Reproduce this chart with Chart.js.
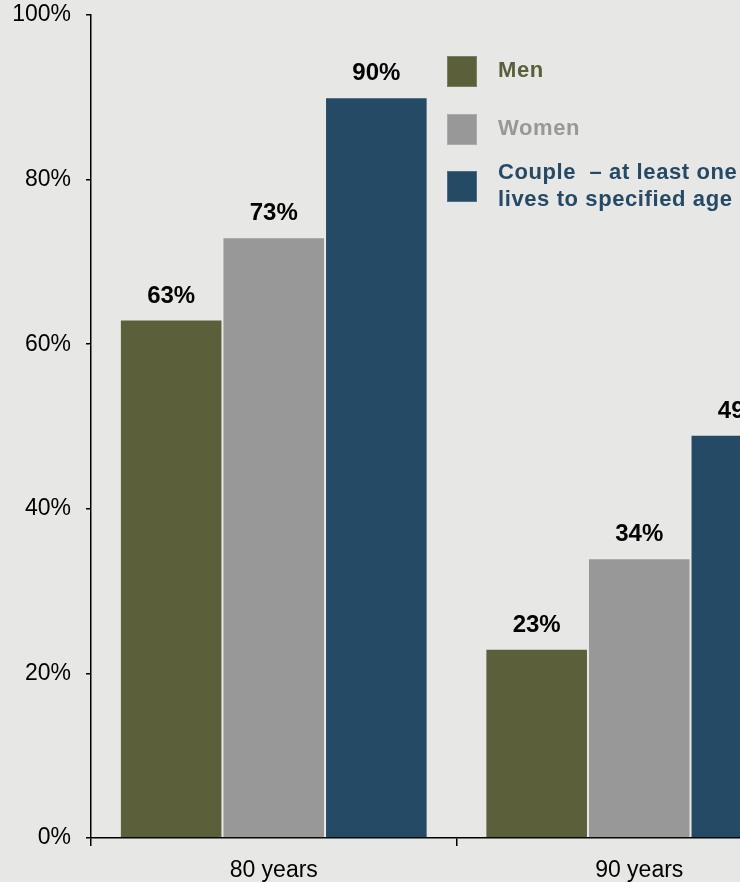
<!DOCTYPE html>
<html>
<head>
<meta charset="utf-8">
<script src="https://cdn.jsdelivr.net/npm/chart.js@4/dist/chart.umd.min.js"></script>
<style>
  html, body { margin: 0; padding: 0; background: #e7e7e6; overflow: hidden; }
  #wrap { width: 840px; height: 882px; }
</style>
</head>
<body>
<div id="wrap"><canvas id="c" width="840" height="882" style="width:840px;height:882px"></canvas></div>
<script>
// ---- data ----
const cats = ['80 years', '90 years'];
const men = [63, 23];
const women = [73, 34];
const couple = [90, 49];
const seriesNames = ['Men', 'Women', 'Couple'];
const legendLines = [['Men'], ['Women'], ['Couple  – at least one', 'lives to specified age']];
const yTicks = [0, 20, 40, 60, 80, 100];

const colors = ['#5b603a', '#989898', '#244a66'];
const FONT = "'Liberation Sans', Arial, sans-serif";

const dataLabelPlugin = {
  id: 'dataLabels',
  afterDatasetsDraw(chart) {
    const ctx = chart.ctx;
    ctx.save();
    ctx.font = 'bold 24px ' + FONT;
    ctx.fillStyle = '#000';
    ctx.textAlign = 'center';
    ctx.textBaseline = 'alphabetic';
    chart.data.datasets.forEach((ds, i) => {
      chart.getDatasetMeta(i).data.forEach((bar, j) => {
        ctx.fillText(ds.data[j] + '%', bar.x, bar.y - 17);
      });
    });
    ctx.restore();
  }
};

const legendPlugin = {
  id: 'customLegend',
  afterDraw(chart) {
    const ctx = chart.ctx;
    ctx.save();
    const boxX = 447, boxSize = 30, textX = 498;
    const rowCenters = [71, 129, 186];
    chart.data.datasets.forEach((ds, i) => {
      const cy = rowCenters[i];
      ctx.fillStyle = ds.backgroundColor;
      ctx.fillRect(boxX, cy - 15, boxSize, 31);
      ctx.strokeStyle = 'rgba(255,255,255,0.2)';
      ctx.lineWidth = 1;
      ctx.strokeRect(boxX + 0.5, cy - 14.5, boxSize - 1, 30);
      ctx.font = 'bold 22px ' + FONT;
      ctx.textAlign = 'left';
      ctx.textBaseline = 'middle';
      try { ctx.letterSpacing = '0.6px'; } catch (e) {}
      const lines = legendLines[i];
      const lh = 27;
      const startY = cy - (lines.length - 1) * lh / 2;
      lines.forEach((t, k) => ctx.fillText(t, textX, startY + k * lh));
    });
    ctx.restore();
  }
};

const mk = (label, data, color) => ({
  label, data,
  backgroundColor: color,
  borderColor: 'rgba(255,255,255,0.1)',
  borderWidth: 1,
  borderSkipped: 'bottom',
  categoryPercentage: 0.842,
  barPercentage: 1.0
});

new Chart(document.getElementById('c'), {
  type: 'bar',
  data: {
    labels: cats,
    datasets: [
      mk(seriesNames[0], men, colors[0]),
      mk(seriesNames[1], women, colors[1]),
      mk(seriesNames[2], couple, colors[2])
    ]
  },
  options: {
    responsive: false,
    animation: false,
    devicePixelRatio: 1,
    layout: { padding: { top: 15, right: 18, left: 0, bottom: 0 } },
    plugins: {
      legend: { display: false },
      tooltip: { enabled: false }
    },
    scales: {
      x: {
        offset: true,
        grid: { offset: true, drawOnChartArea: false, drawTicks: true, tickLength: 8, color: '#000', lineWidth: 1.5 },
        border: { display: true, color: '#000', width: 1.5 },
        ticks: { color: '#000', font: { family: FONT, size: 23 }, padding: 11, maxRotation: 0 },
        afterFit(scale) { scale.height = 44; scale.paddingLeft = 0; scale.paddingRight = 0; }
      },
      y: {
        min: yTicks[0],
        max: yTicks[yTicks.length - 1],
        afterBuildTicks(scale) { scale.ticks = yTicks.map(v => ({ value: v })); },
        grid: { drawOnChartArea: false, drawTicks: true, tickLength: 5, color: '#000', lineWidth: 1.5 },
        border: { display: true, color: '#000', width: 1.5 },
        ticks: { color: '#000', font: { family: FONT, size: 23 }, padding: 15, callback: v => v + '%' },
        afterFit(scale) { scale.width = 91; scale.paddingTop = 0; scale.paddingBottom = 0; }
      }
    }
  },
  plugins: [dataLabelPlugin, legendPlugin]
});
</script>
</body>
</html>
